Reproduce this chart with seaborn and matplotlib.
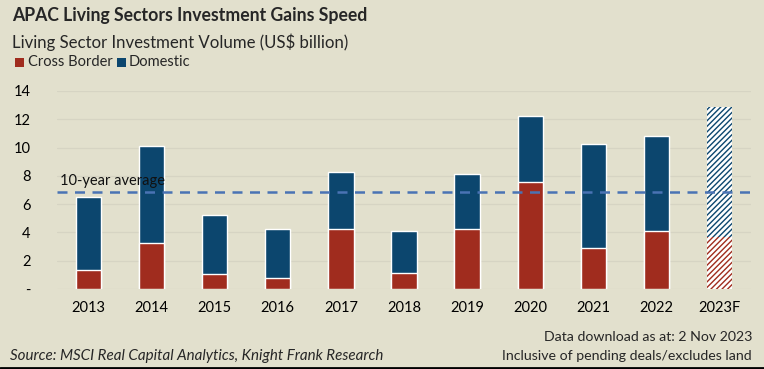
import matplotlib
matplotlib.use("Agg")
import matplotlib.pyplot as plt
import seaborn as sns
import pandas as pd
from matplotlib.lines import Line2D
from matplotlib.patches import Rectangle

years = ["2013", "2014", "2015", "2016", "2017", "2018", "2019", "2020", "2021", "2022", "2023F"]
cross_border = [1.32, 3.23, 1.04, 0.78, 4.27, 1.13, 4.21, 7.55, 2.89, 4.07, 3.69]
domestic = [5.19, 6.88, 4.18, 3.48, 3.97, 2.94, 3.93, 4.71, 7.39, 6.75, 9.18]
ten_year_avg = 6.88
y_ticks = [0, 2, 4, 6, 8, 10, 12, 14]
y_tick_labels = ["-", "2", "4", "6", "8", "10", "12", "14"]

BG = "#E2E0CD"
RED = "#A02C1E"
BLUE = "#0C466E"
AVG = "#4A73B4"

sns.set_theme(style="white")
plt.rcParams["font.family"] = ["Lato", "DejaVu Sans"]
plt.rcParams["hatch.linewidth"] = 1.0

df = pd.DataFrame({"year": years, "cross": cross_border, "domestic": domestic})
df["total"] = df["cross"] + df["domestic"]

fig = plt.figure(figsize=(7.64, 3.69), dpi=100, facecolor=BG)
ax = fig.add_axes([57 / 764, 1 - 289 / 369, (751 - 57) / 764, (289 - 91) / 369])
ax.set_facecolor(BG)

sns.barplot(data=df, x="year", y="total", color=BLUE, width=0.4, saturation=1, ax=ax, zorder=3)
sns.barplot(data=df, x="year", y="cross", color=RED, width=0.4, saturation=1, ax=ax, zorder=4)

n = len(years)
patches = ax.patches
# forecast bar styling (last of each series)
for p, col in [(patches[n - 1], BLUE), (patches[2 * n - 1], RED)]:
    p.set_facecolor("white")
    p.set_edgecolor(col)
    p.set_hatch("//////")
    p.set_linewidth(0)

ax.set_ylim(0, 14)
ax.set_xlim(-0.5, n - 0.5)
ax.set_yticks(y_ticks)
ax.set_yticklabels(y_tick_labels)
ax.set_xlabel("")
ax.set_ylabel("")
ax.grid(axis="y", color="#D6D4C3", linewidth=0.9, zorder=0)
ax.set_axisbelow(True)
for s in ax.spines.values():
    s.set_visible(False)
ax.tick_params(axis="both", length=0, labelsize=10.5, colors="black")
ax.tick_params(axis="y", pad=19)
ax.tick_params(axis="x", pad=9)
for lab in ax.get_yticklabels():
    lab.set_horizontalalignment("right")

ax.axhline(ten_year_avg, color=AVG, linestyle=(0, (4, 3)), linewidth=1.8, zorder=5)
ax.text(-0.46, ten_year_avg + 0.25, "10-year average", fontsize=10.5, color="#111111",
        va="bottom", ha="left", zorder=6)

fig.text(12 / 764, 1 - 16 / 369, "APAC Living Sectors Investment Gains Speed",
         fontsize=12.7, fontweight="bold", va="center", ha="left")
fig.text(12 / 764, 1 - 42 / 369, "Living Sector Investment Volume (US$ billion)",
         fontsize=12.1, va="center", ha="left")
fig.patches.append(Rectangle((15 / 764, 1 - 67 / 369), 9 / 764, 9 / 369,
                             transform=fig.transFigure, facecolor=RED, edgecolor="none"))
fig.text(28 / 764, 1 - 62 / 369, "Cross Border", fontsize=10.5, va="center", ha="left")
fig.patches.append(Rectangle((117 / 764, 1 - 67 / 369), 9 / 764, 9 / 369,
                             transform=fig.transFigure, facecolor=BLUE, edgecolor="none"))
fig.text(129 / 764, 1 - 62 / 369, "Domestic", fontsize=10.5, va="center", ha="left")

fig.text(752 / 764, 1 - 337 / 369, "Data download as at: 2 Nov 2023",
         fontsize=10.2, va="center", ha="right")
fig.text(752 / 764, 1 - 356 / 369, "Inclusive of pending deals/excludes land",
         fontsize=10.2, va="center", ha="right")
fig.text(10 / 764, 1 - 356 / 369, "Source: MSCI Real Capital Analytics, Knight Frank Research",
         fontsize=10.9, style="italic", va="center", ha="left")

fig.add_artist(Line2D([0, 1], [1.5 / 369, 1.5 / 369], transform=fig.transFigure,
                      color="black", linewidth=2))

fig.savefig("out.png", dpi=100, facecolor=BG)
